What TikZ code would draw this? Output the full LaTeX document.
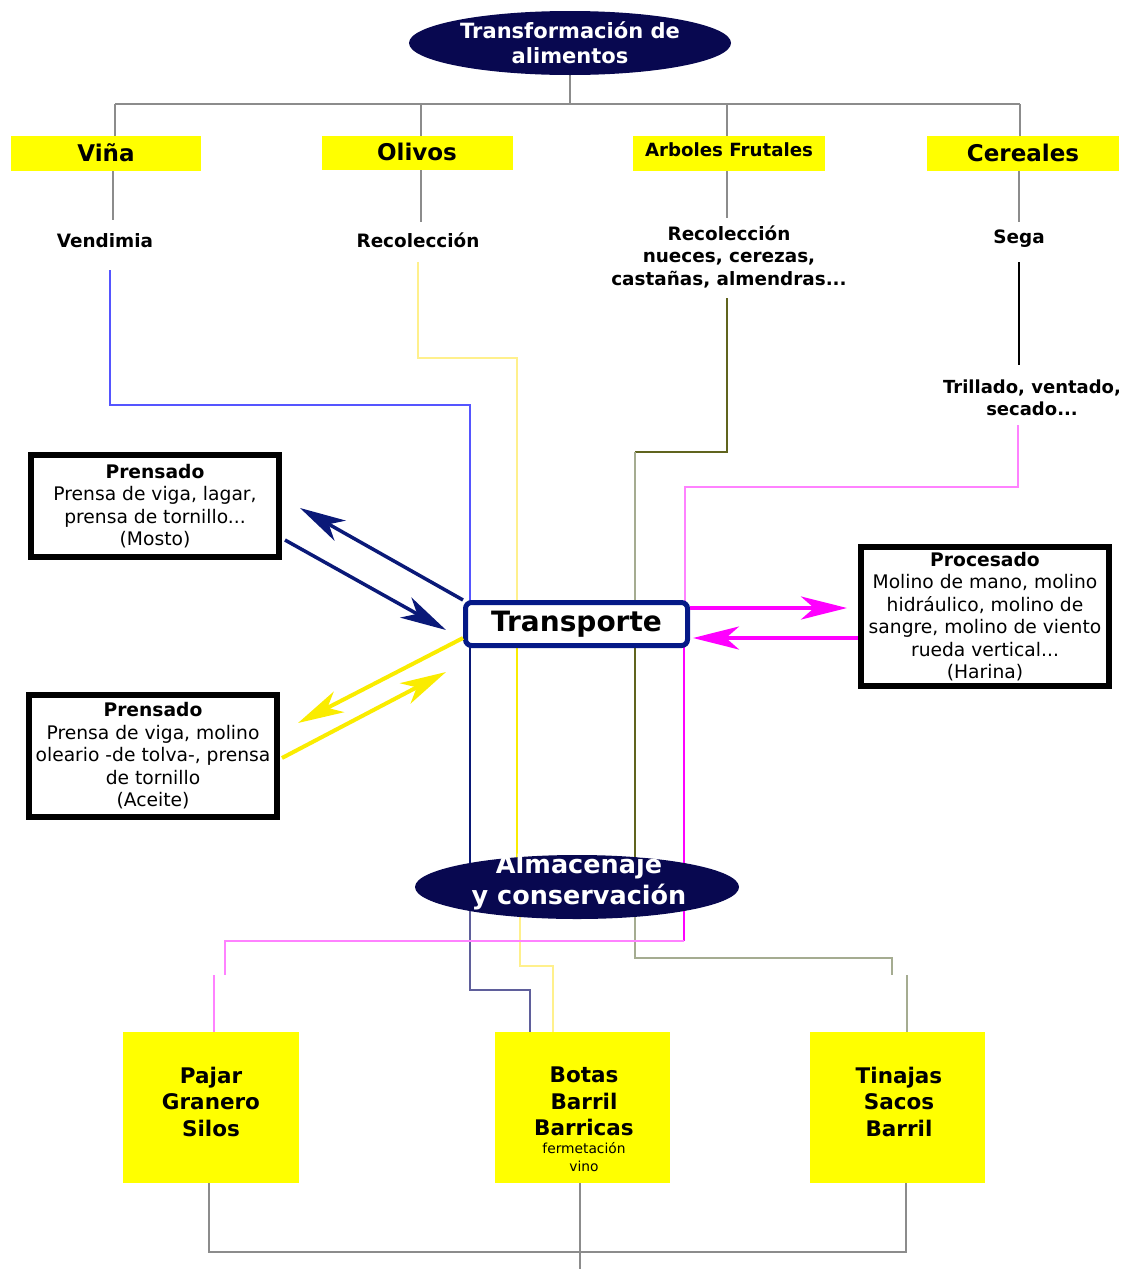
\documentclass[tikz,border=0pt]{standalone}
\usepackage{fontspec}
\setmainfont{DejaVu Sans}
\usetikzlibrary{shapes.geometric,arrows.meta}
\definecolor{navyfill}{RGB}{8,8,80}
\definecolor{trborder}{RGB}{5,25,135}
\definecolor{greyline}{RGB}{140,140,140}
\definecolor{lblue}{RGB}{85,85,255}
\definecolor{bluegrey}{RGB}{95,95,155}
\definecolor{navyline}{RGB}{10,25,120}
\definecolor{lyellow}{RGB}{255,240,140}
\definecolor{byellow}{RGB}{250,236,0}
\definecolor{olive}{RGB}{96,100,30}
\definecolor{oliveg}{RGB}{165,172,145}
\definecolor{lpink}{RGB}{255,130,255}
\definecolor{magent}{RGB}{255,0,255}
\definecolor{boxyellow}{RGB}{255,255,0}
\pgfdeclarelayer{bg}
\pgfsetlayers{bg,main}
\tikzset{
  ovalnode/.style={ellipse, fill=navyfill, inner sep=0pt, text=white, align=center},
  ybox/.style={rectangle, fill=boxyellow, inner sep=0pt},
  plain/.style={inner sep=0pt, align=center, text=black},
  blackbox/.style={rectangle, draw=black, line width=6pt, fill=white, inner sep=0pt, align=center},
  gl/.style={draw=greyline, line width=1.5pt},
  arr/.style={-{Stealth[length=46pt,width=23pt,inset=13pt]}},
  lbl/.style={plain, font=\fontsize{18.4}{22.5}\selectfont\bfseries},
  boxtxt/.style={font=\fontsize{18.7}{22.5}\selectfont},
  bigtxt/.style={plain, font=\fontsize{21.5}{26.5}\selectfont\bfseries},
}
\begin{document}
\begin{tikzpicture}[x=1pt,y=-1pt]
\useasboundingbox (0,0) rectangle (1130,1269);
% top oval
\node[ovalnode, minimum width=322pt, minimum height=64pt, font=\fontsize{21}{25}\selectfont\bfseries] (top) at (570,43) {Transformación de\\alimentos};
% category boxes
\node[ybox, minimum width=190pt, minimum height=35pt] (vina) at (106,153.5) {};
\node[plain, font=\fontsize{23}{25}\selectfont\bfseries] (vinat) at (106,153) {Viña};
\node[ybox, minimum width=191pt, minimum height=34pt] (olivos) at (417.5,153) {};
\node[plain, font=\fontsize{23}{25}\selectfont\bfseries] (olivost) at (417,152) {Olivos};
\node[ybox, minimum width=192pt, minimum height=35pt] (arboles) at (729,153.5) {};
\node[plain, font=\fontsize{18.2}{20}\selectfont\bfseries] (arbolest) at (729,150) {Arboles Frutales};
\node[ybox, minimum width=192pt, minimum height=35pt] (cereales) at (1023,153.5) {};
\node[plain, font=\fontsize{23}{25}\selectfont\bfseries] (cerealest) at (1023,153) {Cereales};
% labels
\node[lbl] (vend) at (105,241) {Vendimia};
\node[lbl] (recol) at (418,240) {Recolección};
\node[lbl] (recol2) at (729,256.5) {Recolección\\nueces, cerezas,\\castañas, almendras...};
\node[lbl] (sega) at (1019,239) {Sega};
\node[lbl, font=\fontsize{18}{21.5}\selectfont\bfseries] (trill) at (1032,398) {Trillado, ventado,\\secado...};
% black boxes
\node[blackbox, boxtxt, minimum width=248pt, minimum height=102pt] (mosto) at (155,506) {\textbf{Prensado}\\Prensa de viga, lagar,\\prensa de tornillo...\\(Mosto)};
\node[blackbox, boxtxt, minimum width=248pt, minimum height=122pt] (aceite) at (153,756) {\textbf{Prensado}\\Prensa de viga, molino\\oleario -de tolva-, prensa\\de tornillo\\(Aceite)};
\node[blackbox, boxtxt, minimum width=248pt, minimum height=139pt] (proc) at (985,616.5) {\textbf{Procesado}\\Molino de mano, molino\\hidráulico, molino de\\sangre, molino de viento\\rueda vertical...\\(Harina)};
% transporte
\node[rectangle, rounded corners=6pt, draw=trborder, line width=5pt, fill=white, minimum width=222pt, minimum height=43pt, inner sep=0pt, font=\fontsize{28}{30}\selectfont\bfseries] (trans) at (576.5,624) {Transporte};
% almacenaje
\node[ovalnode, minimum width=324pt, minimum height=64pt] (alm) at (577,887) {};
\node[plain, text=white, font=\fontsize{25.5}{31}\selectfont\bfseries] (almt) at (579,882) {Almacenaje\\y conservación};
% bottom boxes
\node[ybox, minimum width=176pt, minimum height=151pt] (pajar) at (211,1107.5) {};
\node[bigtxt] (pajart) at (211,1101.5) {Pajar\\Granero\\Silos};
\node[ybox, minimum width=175pt, minimum height=151pt] (botas) at (582.5,1107.5) {};
\node[bigtxt] (botast) at (584,1101.5) {Botas\\Barril\\Barricas};
\node[plain, font=\fontsize{13.8}{18}\selectfont] (botass) at (584,1157) {fermetación\\vino};
\node[ybox, minimum width=175pt, minimum height=151pt] (tinajas) at (897.5,1107.5) {};
\node[bigtxt] (tinajast) at (899,1101.5) {Tinajas\\Sacos\\Barril};
% coordinates
\coordinate (hub) at (570,104);
\coordinate (bot) at (580,1252);
\begin{pgfonlayer}{bg}
% top tree
\draw[gl] (top.south) -- (hub);
\draw[gl] (115,104) -- (1020,104);
\draw[gl] (115,104) -- (115,136);
\draw[gl] (421,104) -- (421,136);
\draw[gl] (727,104) -- (727,136);
\draw[gl] (1020,104) -- (1020,136);
\draw[gl] (113,171) -- (113,220);
\draw[gl] (421,170) -- (421,222);
\draw[gl] (727,171) -- (727,218);
\draw[gl] (1019,171) -- (1019,222);
\draw[black, line width=2.5pt] (1019,262) -- (1019,365);
% blue path
\draw[lblue, line width=1.3pt] (110,270) -- (110,405) -- (470,405) -- (470,603);
\draw[navyline, line width=2pt] (470,645) -- (470,880);
\draw[bluegrey, line width=1.5pt] (470,900) -- (470,990) -- (530,990) -- (530,1032);
% yellow path
\draw[lyellow, line width=1.5pt] (418,262) -- (418,358) -- (517,358) -- (517,603);
\draw[byellow, line width=2pt] (517,645) -- (517,880);
\draw[lyellow, line width=1.5pt] (520,900) -- (520,966) -- (553,966) -- (553,1032);
% olive path
\draw[olive, line width=1.3pt] (727,298) -- (727,452) -- (635,452);
\draw[oliveg, line width=1.3pt] (635,452) -- (635,603);
\draw[olive, line width=2pt] (635,645) -- (635,880);
\draw[oliveg, line width=1.5pt] (635,900) -- (635,958) -- (892,958) -- (892,975) (907,975) -- (907,1032);
% pink path
\draw[lpink, line width=1.3pt] (1018,425) -- (1018,487) -- (685,487) -- (685,603);
\draw[magent, line width=2pt] (684,645) -- (684,941);
\draw[lpink, line width=1.5pt] (684,941) -- (225,941) -- (225,975) (214,975) -- (214,1032);
% bottom tree
\draw[gl] (pajar.south -| 209,0) -- (209,1252) -- (906,1252) -- (tinajas.south -| 906,0);
\draw[gl] (botas.south -| bot) -- (580,1269);
\end{pgfonlayer}
% arrows
\draw[arr, navyline, line width=3.5pt] (trans.north west) -- (300,508);
\draw[arr, navyline, line width=3.5pt] (285,540) -- (446,630);
\draw[arr, byellow, line width=4pt] (463,638) -- (298,723);
\draw[arr, byellow, line width=4pt] (282,758) -- (446,672);
\draw[arr, magent, line width=4pt] (trans.east |- 0,608) -- (847,608);
\draw[arr, magent, line width=4pt] (proc.west |- 0,638) -- (693,638);
\end{tikzpicture}
\end{document}
